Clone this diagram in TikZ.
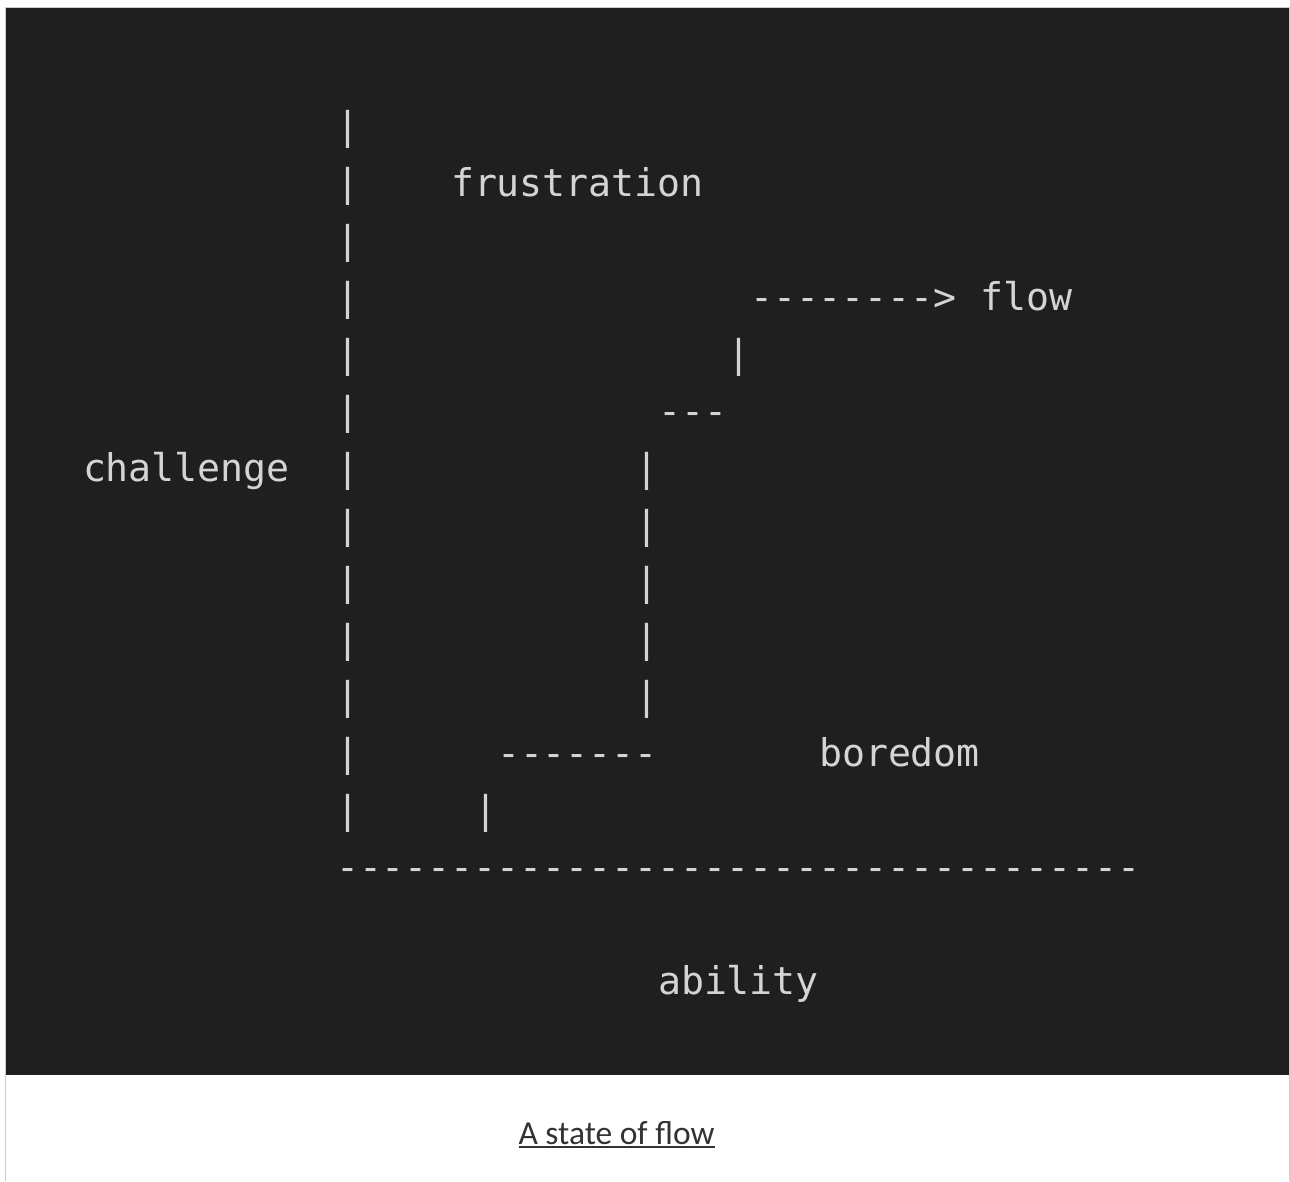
\documentclass[tikz,border=0pt]{standalone}
\usepackage{fontspec}
\setmonofont[Ligatures=TeXOff]{DejaVu Sans Mono}
\newfontfamily\capfont{Carlito}
\definecolor{panel}{HTML}{1F1F1F}
\definecolor{code}{HTML}{D4D4D4}
\definecolor{frame}{HTML}{CCCCCC}
\definecolor{captxt}{HTML}{333333}
\tikzset{
  codetxt/.style={anchor=base west, inner sep=0pt, outer sep=0pt, text=code,
    font=\ttfamily\fontsize{38.2}{38.2}\selectfont},
  captiontxt/.style={anchor=base, inner sep=0pt, outer sep=0pt, text=captxt,
    font=\capfont\fontsize{33.5}{33.5}\selectfont}
}
\newcommand{\cx}[1]{83+23*#1}
\newcommand{\ry}[1]{139.5+57*#1}
\begin{document}
\begin{tikzpicture}[x=1pt,y=-1pt]
\useasboundingbox (0,0) rectangle (1290,1181);
\fill[white] (0,0) rectangle (1290,1181);
\fill[panel] (6,8) rectangle (1289,1075);
\draw[frame, line width=1.5pt] (5.5,1181) -- (5.5,7.5) -- (1289.5,7.5) -- (1289.5,1181);
% left axis
\foreach \r in {0,...,12} {
  \node[codetxt] (ax\r) at ({\cx{11}},{\ry{\r}}) {|};
}
\node[codetxt] (frus) at ({\cx{16}},{\ry{1}}) {frustration};
\node[codetxt] (arrow) at ({\cx{29}},{\ry{3}}) {-------->};
\node[codetxt] (flow) at ({\cx{39}},{\ry{3}}) {flow};
\node[codetxt] (s4) at ({\cx{28}},{\ry{4}}) {|};
\node[codetxt] (s5) at ({\cx{25}},{\ry{5}}) {---};
\node[codetxt] (chal) at ({\cx{0}},{\ry{6}}) {challenge};
\foreach \r in {6,...,10} {
  \node[codetxt] (v\r) at ({\cx{24}},{\ry{\r}}) {|};
}
\node[codetxt] (s11) at ({\cx{18}},{\ry{11}}) {-------};
\node[codetxt] (bore) at ({\cx{32}},{\ry{11}}) {boredom};
\node[codetxt] (s12) at ({\cx{17}},{\ry{12}}) {|};
\node[codetxt] (xaxis) at ({\cx{11}},{\ry{13}}) {-----------------------------------};
\node[codetxt] (abil) at ({\cx{25}},{\ry{15}}) {ability};
% caption
\node[captiontxt] (cap) at (616.5,1144) {A state of flow};
\draw[captxt, line width=2pt] ([yshift=-3pt]cap.base west) -- ([yshift=-3pt]cap.base east);
\end{tikzpicture}
\end{document}
